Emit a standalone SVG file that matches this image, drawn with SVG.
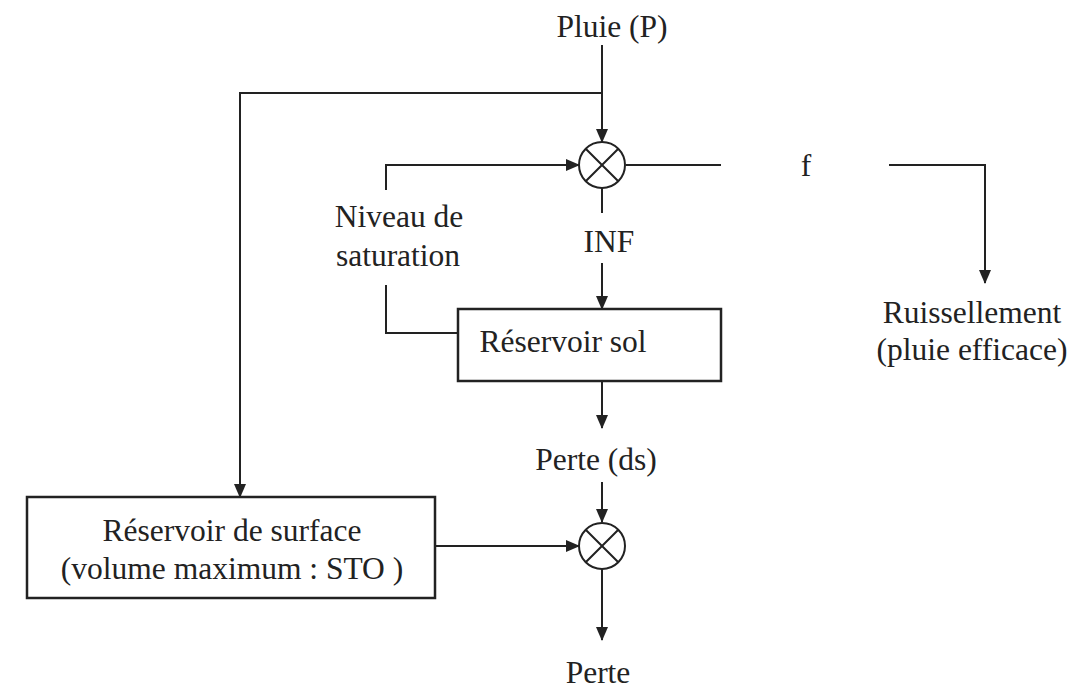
<svg xmlns="http://www.w3.org/2000/svg" width="1080" height="689" viewBox="0 0 1080 689">
<defs>
<marker id="ah" markerWidth="14" markerHeight="12" refX="13" refY="6" orient="auto" markerUnits="userSpaceOnUse">
<path d="M0,0 L14,6 L0,12 Z" fill="#222"/>
</marker>
<style>
.ln{stroke:#222;stroke-width:2;fill:none}
.bx{stroke:#222;stroke-width:2.5;fill:#fff}
</style>
</defs>
<rect width="1080" height="689" fill="#fff"/>
<g id="connectors">
<path class="ln" d="M602,45 V142" marker-end="url(#ah)"/>
<path class="ln" d="M602,93 H240 V497" marker-end="url(#ah)"/>
<path class="ln" d="M386,190 V165 H579" marker-end="url(#ah)"/>
<path class="ln" d="M386,285 V333 H458"/>
<path class="ln" d="M626,165 H721"/>
<path class="ln" d="M889,165 H985 V283" marker-end="url(#ah)"/>
<path class="ln" d="M602,188 V213"/>
<path class="ln" d="M602,263 V309" marker-end="url(#ah)"/>
<path class="ln" d="M602,381 V428" marker-end="url(#ah)"/>
<path class="ln" d="M602,482 V522" marker-end="url(#ah)"/>
<path class="ln" d="M435,546 H579" marker-end="url(#ah)"/>
<path class="ln" d="M602,569 V640" marker-end="url(#ah)"/>
</g>
<g font-family="Liberation Serif" font-size="31.5" fill="#222" text-anchor="middle">
<g id="pluie"><text x="612" y="37">Pluie (P)</text></g>
<g id="f"><text x="806" y="176">f</text></g>
<g id="ruissellement"><text x="972" y="323">Ruissellement</text><text x="972" y="360">(pluie efficace)</text></g>
<g id="niveau"><text x="399" y="227">Niveau de</text><text x="398" y="266">saturation</text></g>
<g id="inf"><text x="609" y="252">INF</text></g>
<g id="reservoir-sol"><rect class="bx" x="458" y="309" width="263" height="72"/><text x="563" y="352">Réservoir sol</text></g>
<g id="perte-ds"><text x="596" y="470">Perte (ds)</text></g>
<g id="reservoir-surface"><rect class="bx" x="27" y="497" width="408" height="101"/><text x="232" y="541">Réservoir de surface</text><text x="232" y="579">(volume maximum : STO )</text></g>
<g id="perte"><text x="598" y="683">Perte</text></g>
</g>
<g id="mult1">
<circle cx="602" cy="165" r="23" class="ln"/>
<path class="ln" d="M585.7,148.7 L618.3,181.3 M618.3,148.7 L585.7,181.3"/>
</g>
<g id="mult2">
<circle cx="602" cy="546" r="23" class="ln"/>
<path class="ln" d="M585.7,529.7 L618.3,562.3 M618.3,529.7 L585.7,562.3"/>
</g>
</svg>
